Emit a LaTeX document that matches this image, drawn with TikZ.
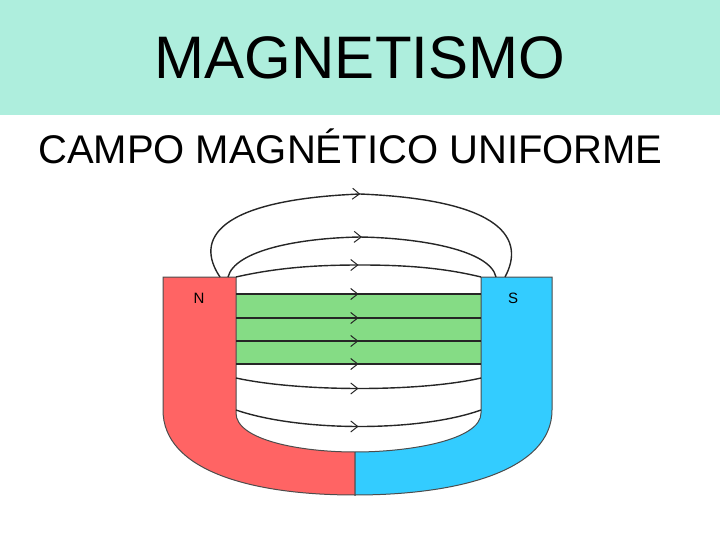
\documentclass[tikz,border=0pt]{standalone}
\usepackage{fontspec}
\setmainfont{Liberation Sans}
\usetikzlibrary{decorations.markings,arrows.meta}
\definecolor{head}{HTML}{AEEEDD}
\definecolor{npole}{HTML}{FF6464}
\definecolor{spole}{HTML}{33CCFF}
\definecolor{band}{HTML}{85DC85}
\tikzset{
 fl/.style={draw=black!85,line width=1.4pt,postaction={decorate},
  decoration={markings,mark=at position #1 with {\arrow{Straight Barb[length=7pt,width=11pt,line width=1pt]}}}},
 fl/.default=0.5,
 pole/.style={draw=black!70,line width=1pt}
}
\begin{document}
\begin{tikzpicture}[x=1pt,y=-1pt]
\useasboundingbox (0,0) rectangle (720,540);
\fill[head] (0,0) rectangle (720,115);
\node[font=\fontsize{60}{60}\selectfont] (title) at (360,58) {MAGNETISMO};
\node[font=\fontsize{40}{40}\selectfont,anchor=west,inner sep=0pt] (sub) at (38,146) {CAMPO MAGNÉTICO UNIFORME};
\fill[band] (236,294) rectangle (481,364);
\path[pole,fill=npole] (163,277) -- (236,277) -- (236,413) .. controls (236,440) and (300,452) .. (355,452) -- (355,495) .. controls (250,495) and (163,470) .. (163,410) -- cycle;
\path[pole,fill=spole] (552,277) -- (481,277) -- (481,413) .. controls (481,440) and (410,452) .. (355,452) -- (355,495) .. controls (460,495) and (552,470) .. (552,410) -- cycle;
\node[font=\fontsize{15}{15}\selectfont] (n) at (199,298) {N};
\node[font=\fontsize{15}{15}\selectfont] (s) at (513,298) {S};
\coordinate (a1) at (220,277); \coordinate (b1) at (505,277);
\coordinate (a2) at (228,277); \coordinate (b2) at (496,277);
\coordinate (a3) at (236,277); \coordinate (b3) at (481,277);
\draw[fl=0.5] (a1) .. controls (195,240) and (215,200) .. (360,194) .. controls (505,200) and (525,240) .. (b1);
\draw[fl=0.5] (a2) .. controls (235,250) and (300,238) .. (360,237) .. controls (420,238) and (490,250) .. (b2);
\draw[fl=0.5] (a3) .. controls (280,267) and (320,265) .. (360,265) .. controls (400,265) and (440,267) .. (b3);
\foreach \y in {294,318,341,364}{
 \coordinate (l\y) at (236,\y); \coordinate (r\y) at (481,\y);
 \draw[fl=0.5] (l\y) -- (r\y);
}
\coordinate (a4) at (236,378); \coordinate (b4) at (481,378);
\coordinate (a5) at (236,410); \coordinate (b5) at (481,410);
\draw[fl=0.5] (a4) .. controls (300,392) and (420,392) .. (b4);
\draw[fl=0.5] (a5) .. controls (300,432) and (420,432) .. (b5);
\end{tikzpicture}
\end{document}
